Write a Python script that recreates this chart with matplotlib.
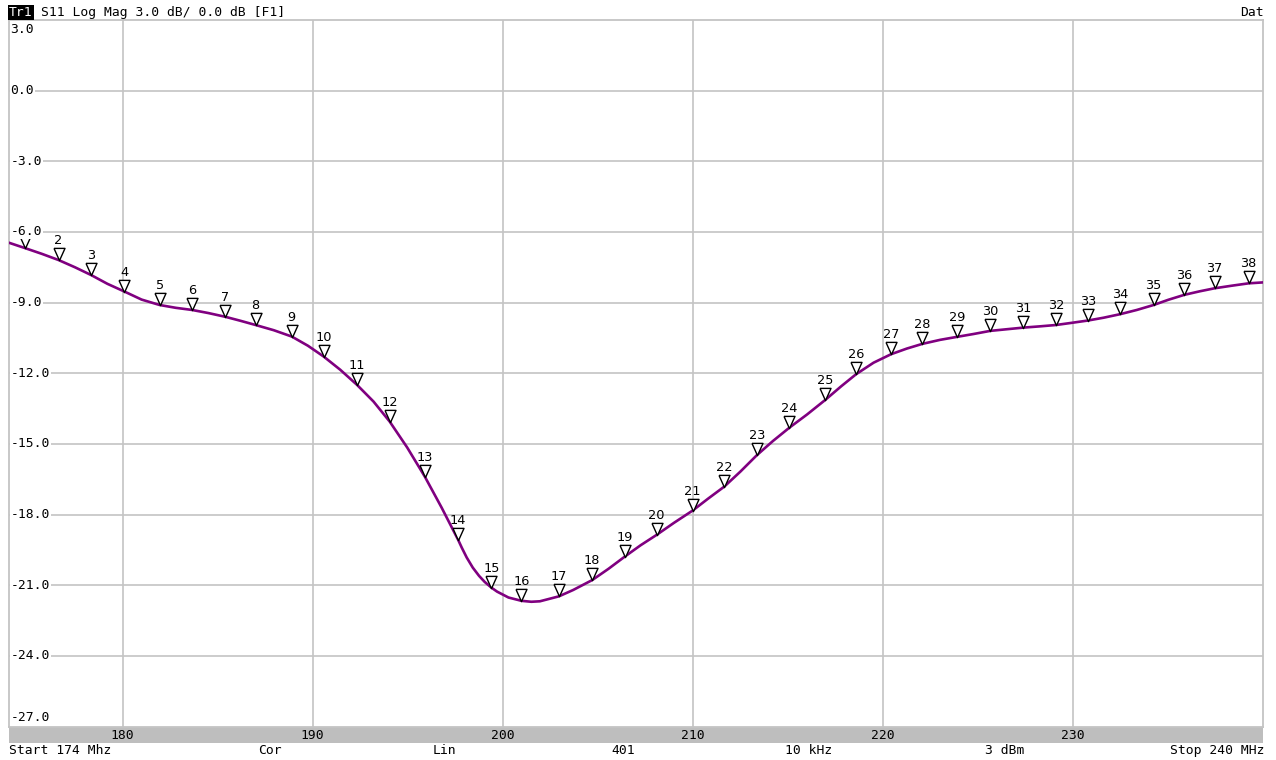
import matplotlib
matplotlib.use('Agg')
import matplotlib.pyplot as plt
import matplotlib.transforms as mtransforms
from matplotlib.patches import Rectangle

# S11 trace (MHz, dB)
freq_mhz = [174.0, 174.89, 175.76, 176.63, 177.5, 178.35, 179.2, 180.1, 181.0, 181.95,
            182.8, 183.65, 184.5, 185.4, 186.2, 187.0, 187.95, 188.9, 189.75, 190.58,
            191.45, 192.33, 193.2, 194.05, 194.97, 195.9, 196.78, 197.65, 197.84, 198.1,
            198.42, 198.75, 199.05, 199.4, 199.7, 200.3, 200.98, 201.5, 201.95, 202.95,
            203.7, 204.7, 205.56, 206.42, 207.25, 208.09, 209.0, 209.98, 210.8, 211.65,
            212.5, 213.37, 214.2, 215.07, 216.0, 216.96, 217.8, 218.58, 219.5, 220.42,
            221.25, 222.07, 223.0, 223.91, 224.77, 225.63, 226.5, 227.38, 228.2, 229.09,
            229.9, 230.77, 231.6, 232.47, 233.35, 234.23, 235.0, 235.84, 236.65, 237.44,
            238.35, 239.23, 240.0]
s11_db = [-6.45, -6.69, -6.93, -7.19, -7.5, -7.83, -8.2, -8.53, -8.87, -9.10,
          -9.22, -9.31, -9.44, -9.60, -9.77, -9.95, -10.17, -10.44, -10.83, -11.29,
          -11.85, -12.49, -13.2, -14.05, -15.15, -16.39, -17.7, -19.07, -19.4, -19.82,
          -20.25, -20.6, -20.86, -21.1, -21.27, -21.52, -21.66, -21.7, -21.68, -21.47,
          -21.2, -20.78, -20.3, -19.78, -19.3, -18.86, -18.35, -17.83, -17.32, -16.81,
          -16.17, -15.47, -14.88, -14.31, -13.75, -13.13, -12.55, -12.04, -11.55, -11.19,
          -10.95, -10.75, -10.58, -10.45, -10.33, -10.2, -10.13, -10.06, -10.01, -9.95,
          -9.86, -9.76, -9.64, -9.49, -9.31, -9.1, -8.88, -8.67, -8.52, -8.39,
          -8.28, -8.18, -8.14]

# markers 1..38
marker_freq = [174.89, 176.63, 178.35, 180.1, 181.95, 183.65, 185.4, 187.0, 188.9, 190.58,
               192.33, 194.05, 195.9, 197.65, 199.4, 200.98, 202.95, 204.7, 206.42, 208.09,
               209.98, 211.65, 213.37, 215.07, 216.96, 218.58, 220.42, 222.07, 223.91, 225.63,
               227.38, 229.09, 230.77, 232.47, 234.23, 235.84, 237.44, 239.23]
marker_db = [-6.69, -7.19, -7.83, -8.53, -9.10, -9.31, -9.60, -9.95, -10.44, -11.29,
             -12.49, -14.05, -16.39, -19.07, -21.1, -21.66, -21.47, -20.78, -19.78, -18.86,
             -17.83, -16.81, -15.47, -14.31, -13.13, -12.04, -11.19, -10.75, -10.45, -10.2,
             -10.06, -9.95, -9.76, -9.49, -9.1, -8.67, -8.39, -8.18]

x_ticks = [180, 190, 200, 210, 220, 230]
y_ticks = [3.0, 0.0, -3.0, -6.0, -9.0, -12.0, -15.0, -18.0, -21.0, -24.0, -27.0]

header = "S11 Log Mag 3.0 dB/ 0.0 dB [F1]"
footer = [("Start 174 Mhz", 9, 'left'), ("Cor", 258, 'left'), ("Lin", 433, 'left'),
          ("401", 611, 'left'), ("10 kHz", 785, 'left'), ("3 dBm", 985, 'left'),
          ("Stop 240 MHz", 1264, 'right')]

W, H = 1276, 760
mono = 'DejaVu Sans Mono'
fs = 9.4
grid_c = '#c4c4c4'

fig = plt.figure(figsize=(W / 100, H / 100), dpi=100)
x0, x1, y0, y1 = 8.5, 1263.3, 20.0, 726.6
ax = fig.add_axes([x0 / W, 1 - y1 / H, (x1 - x0) / W, (y1 - y0) / H])
ax.set_xlim(174, 240)
ax.set_ylim(-27, 3)

for s in ax.spines.values():
    s.set_color(grid_c)
    s.set_linewidth(1.3)

ax.set_xticks(x_ticks)
ax.set_yticks(y_ticks[1:-1])
ax.set_yticklabels([])
ax.grid(True, color=grid_c, linewidth=1.2)
ax.tick_params(axis='both', length=0)
ax.tick_params(axis='x', pad=1.5, labelsize=fs, labelcolor='black')
for lab in ax.get_xticklabels():
    lab.set_family(mono)

# gray band behind frequency labels
fig.patches.append(Rectangle((x0 / W, 1 - 743 / H), (x1 - x0) / W, 16 / H,
                             transform=fig.transFigure, facecolor='#bebebe',
                             edgecolor='none', zorder=-1))

# y labels drawn inside the plot
ytr = mtransforms.blended_transform_factory(ax.transAxes, ax.transData)
for v in y_ticks:
    va = 'center'
    off = 0
    if v == y_ticks[0]:
        va, off = 'top', -3
    elif v == y_ticks[-1]:
        va, off = 'bottom', 3
    ax.annotate("%.1f" % v, (0.0, v), xycoords=ytr, xytext=(2, off),
                textcoords='offset pixels', ha='left', va=va, family=mono,
                fontsize=fs, zorder=6,
                bbox=dict(facecolor='white', edgecolor='none', pad=0.6))

ax.plot(freq_mhz, s11_db, color='#800080', linewidth=1.9, zorder=3,
        solid_capstyle='round', solid_joinstyle='round')

# marker triangles, apex on the trace
tri = [(-0.45, 0.5), (0.45, 0.5), (0.0, -0.5), (-0.45, 0.5)]
mtr = mtransforms.offset_copy(ax.transData, fig=fig, x=0, y=6, units='dots')
ax.plot(marker_freq, marker_db, linestyle='none', marker=tri, markersize=8.8,
        markerfacecolor='white', markeredgecolor='black', markeredgewidth=1.0,
        transform=mtr, zorder=4)
# marker 1's number sits under the -6.0 label on the screen
for i, (f, d) in enumerate(zip(marker_freq, marker_db)):
    if i == 0:
        continue
    ax.annotate(str(i + 1), (f, d), xytext=(0, 13), textcoords='offset pixels',
                ha='center', va='bottom', fontsize=9.3, zorder=5)

# header
fig.text(9 / W, 1 - 12.5 / H, "Tr1", color='white', family=mono, fontsize=fs,
         ha='left', va='center',
         bbox=dict(facecolor='black', edgecolor='none', pad=0.8))
fig.text(41 / W, 1 - 12.5 / H, header, family=mono, fontsize=fs, ha='left', va='center')
fig.text(1264 / W, 1 - 12.5 / H, "Dat", family=mono, fontsize=fs, ha='right', va='center')

# footer
for txt, px, ha in footer:
    fig.text(px / W, 1 - 750.5 / H, txt, family=mono, fontsize=fs, ha=ha, va='center')

fig.savefig('out.png', dpi=100, facecolor='white')
